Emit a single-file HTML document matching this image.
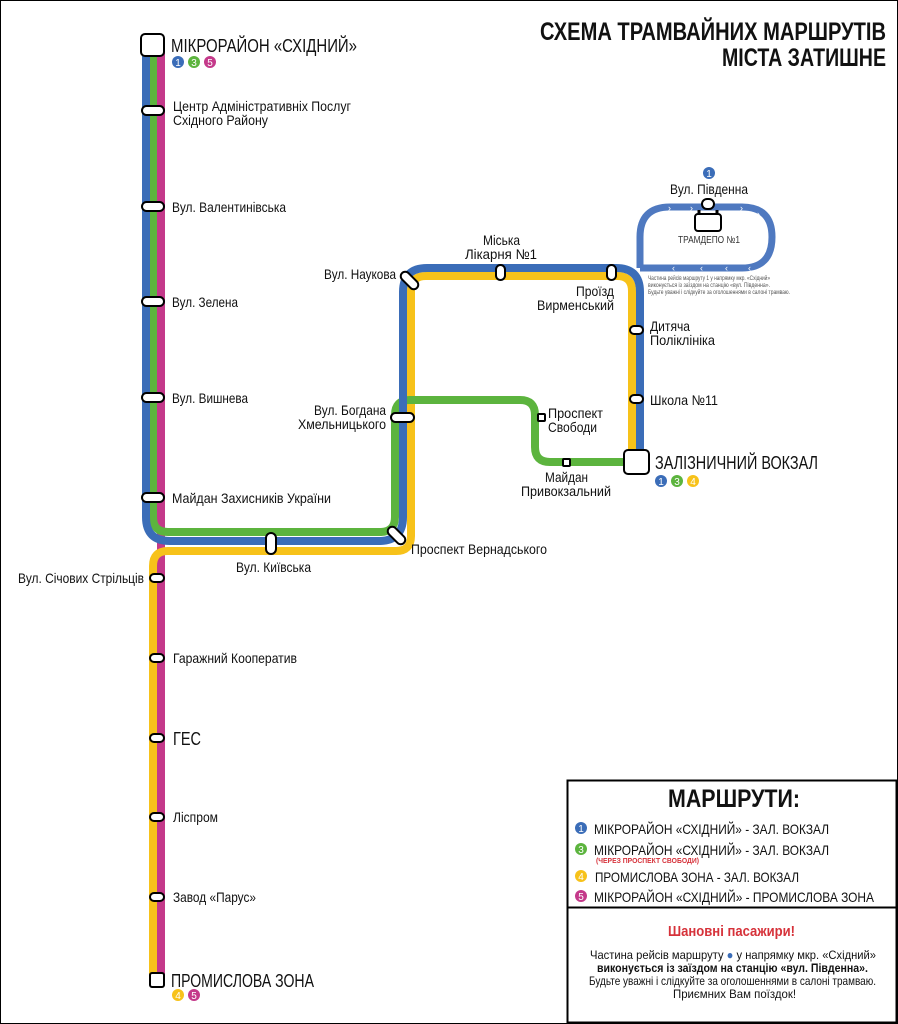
<!DOCTYPE html>
<html><head><meta charset="utf-8"><style>
html,body{margin:0;padding:0;background:#fff}
svg{display:block}
text{font-family:"Liberation Sans Narrow","Liberation Sans",sans-serif;fill:#111}
.l{font-size:14px}
</style></head><body>
<svg width="898" height="1024" viewBox="0 0 898 1024" xmlns="http://www.w3.org/2000/svg">
<rect x="0.5" y="0.5" width="897" height="1023" fill="#fff" stroke="#000" stroke-width="1"/>
<g fill="none" stroke-width="8" stroke-linecap="butt">
<path d="M161 45 V980" stroke="#c4398a"/>
<path d="M153 980 V566 Q153 551 168 551 H396 Q411 551 411 536 V291 Q411 276 426 276 H617 Q632 276 632 291 V462" stroke="#f7c21a"/>
<path d="M153 45 V517 Q153 532 168 532 H380 Q395 532 395 517 V415 Q395 400 410 400 H520 Q535 400 535 415 V447 Q535 462 550 462 H630" stroke="#5cb43e"/>
<path d="M146 45 V517 Q146 541 170 541 H379 Q403 541 403 517 V292 Q403 268 427 268 H616 Q640 268 640 292 V462" stroke="#3b6db8"/>
<path d="M640 268 V237 Q640 207 670 207 H742 Q772 207 772 237 Q772 268 742 268 H640" stroke="#4f79c0" stroke-width="7"/>
</g>
<g>
<text x="668" y="211" style="fill:#fff;font-size:9px">›</text>
<text x="690" y="211" style="fill:#fff;font-size:9px">›</text>
<text x="740" y="211" style="fill:#fff;font-size:9px">›</text>
<text x="757" y="217" style="fill:#fff;font-size:9px">›</text>
<text x="700" y="271" style="fill:#fff;font-size:9px">‹</text>
<text x="725" y="271" style="fill:#fff;font-size:9px">‹</text>
<text x="672" y="271" style="fill:#fff;font-size:9px">‹</text>
<text x="748" y="271" style="fill:#fff;font-size:9px">‹</text>
</g>
<g fill="#fff" stroke="#000" stroke-width="2">
<rect x="141" y="34" width="23" height="22" rx="4"/>
<rect x="142" y="106" width="22" height="9" rx="4.5"/>
<rect x="142" y="202" width="22" height="9" rx="4.5"/>
<rect x="142" y="297" width="22" height="9" rx="4.5"/>
<rect x="142" y="393" width="22" height="9" rx="4.5"/>
<rect x="142" y="493" width="22" height="9" rx="4.5"/>
<rect x="150" y="574" width="14" height="8" rx="4"/>
<rect x="150" y="654" width="14" height="8" rx="4"/>
<rect x="150" y="734" width="14" height="8" rx="4"/>
<rect x="150" y="813" width="14" height="8" rx="4"/>
<rect x="150" y="893" width="14" height="8" rx="4"/>
<rect x="150" y="973" width="14" height="14" rx="2"/>
<rect x="266" y="533" width="10" height="21" rx="5"/>
<rect x="386" y="531" width="21" height="9" rx="4.5" transform="rotate(45 396.5 535.5)"/>
<rect x="399" y="276" width="21" height="9" rx="4.5" transform="rotate(45 409.5 280.5)"/>
<rect x="391" y="413" width="23" height="9" rx="4.5"/>
<rect x="496" y="265" width="9" height="15" rx="4.5"/>
<rect x="607" y="265" width="9" height="15" rx="4.5"/>
<rect x="630" y="326" width="13" height="8" rx="4"/>
<rect x="630" y="395" width="13" height="8" rx="4"/>
<rect x="538" y="414" width="7" height="7" rx="1"/>
<rect x="563" y="459" width="7" height="7" rx="1"/>
<rect x="624" y="450" width="25" height="24" rx="4"/>
<rect x="702" y="199" width="12" height="10" rx="5"/>
<rect x="695" y="214" width="26" height="17" rx="3"/>
</g>
<path d="M699 210 v4 M717 210 v4" stroke="#000" stroke-width="3"/>
<text x="540" y="40" textLength="346" lengthAdjust="spacingAndGlyphs" style="font-size:25px;font-weight:bold">СХЕМА ТРАМВАЙНИХ МАРШРУТІВ</text>
<text x="722" y="66" textLength="164" lengthAdjust="spacingAndGlyphs" style="font-size:25px;font-weight:bold">МІСТА ЗАТИШНЕ</text>
<text x="171" y="52" textLength="186" lengthAdjust="spacingAndGlyphs" style="font-size:18px">МІКРОРАЙОН «СХІДНИЙ»</text>
<circle cx="178" cy="62" r="6" fill="#3b6db8"/><circle cx="194" cy="62" r="6" fill="#5cb43e"/><circle cx="210" cy="62" r="6" fill="#c4398a"/>
<text x="178" y="66" text-anchor="middle" style="fill:#fff;font-size:10px">1</text>
<text x="194" y="66" text-anchor="middle" style="fill:#fff;font-size:10px">3</text>
<text x="210" y="66" text-anchor="middle" style="fill:#fff;font-size:10px">5</text>
<text class="l" x="173" y="111" textLength="178" lengthAdjust="spacingAndGlyphs">Центр Адміністративніх Послуг</text>
<text class="l" x="173" y="125" textLength="95" lengthAdjust="spacingAndGlyphs">Східного Району</text>
<text class="l" x="172" y="212" textLength="114" lengthAdjust="spacingAndGlyphs">Вул. Валентинівська</text>
<text class="l" x="172" y="307" textLength="66" lengthAdjust="spacingAndGlyphs">Вул. Зелена</text>
<text class="l" x="172" y="403" textLength="76" lengthAdjust="spacingAndGlyphs">Вул. Вишнева</text>
<text class="l" x="172" y="503" textLength="159" lengthAdjust="spacingAndGlyphs">Майдан Захисників України</text>
<text class="l" x="18" y="583" textLength="126" lengthAdjust="spacingAndGlyphs">Вул. Січових Стрільців</text>
<text class="l" x="173" y="663" textLength="124" lengthAdjust="spacingAndGlyphs">Гаражний Кооператив</text>
<text x="173" y="745" textLength="28" lengthAdjust="spacingAndGlyphs" style="font-size:18px">ГЕС</text>
<text class="l" x="173" y="822" textLength="45" lengthAdjust="spacingAndGlyphs">Ліспром</text>
<text class="l" x="173" y="902" textLength="83" lengthAdjust="spacingAndGlyphs">Завод «Парус»</text>
<text x="171" y="987" textLength="143" lengthAdjust="spacingAndGlyphs" style="font-size:18px">ПРОМИСЛОВА ЗОНА</text>
<circle cx="178" cy="995" r="6" fill="#f7c21a"/><circle cx="194" cy="995" r="6" fill="#c4398a"/>
<text x="178" y="999" text-anchor="middle" style="fill:#fff;font-size:10px">4</text>
<text x="194" y="999" text-anchor="middle" style="fill:#fff;font-size:10px">5</text>
<text class="l" x="236" y="572" textLength="75" lengthAdjust="spacingAndGlyphs">Вул. Київська</text>
<text class="l" x="411" y="554" textLength="136" lengthAdjust="spacingAndGlyphs">Проспект Вернадського</text>
<text class="l" x="324" y="279" textLength="72" lengthAdjust="spacingAndGlyphs">Вул. Наукова</text>
<text class="l" x="314" y="415" textLength="72" lengthAdjust="spacingAndGlyphs">Вул. Богдана</text>
<text class="l" x="298" y="429" textLength="88" lengthAdjust="spacingAndGlyphs">Хмельницького</text>
<text class="l" x="483" y="245" textLength="37" lengthAdjust="spacingAndGlyphs">Міська</text>
<text class="l" x="465" y="259" textLength="72" lengthAdjust="spacingAndGlyphs">Лікарня №1</text>
<text class="l" x="576" y="296" textLength="38" lengthAdjust="spacingAndGlyphs">Проїзд</text>
<text class="l" x="537" y="310" textLength="77" lengthAdjust="spacingAndGlyphs">Вирменський</text>
<text class="l" x="650" y="331" textLength="40" lengthAdjust="spacingAndGlyphs">Дитяча</text>
<text class="l" x="650" y="345" textLength="65" lengthAdjust="spacingAndGlyphs">Поліклініка</text>
<text class="l" x="650" y="405" textLength="68" lengthAdjust="spacingAndGlyphs">Школа №11</text>
<text class="l" x="548" y="418" textLength="55" lengthAdjust="spacingAndGlyphs">Проспект</text>
<text class="l" x="548" y="432" textLength="49" lengthAdjust="spacingAndGlyphs">Свободи</text>
<text class="l" x="545" y="482" textLength="43" lengthAdjust="spacingAndGlyphs">Майдан</text>
<text class="l" x="521" y="496" textLength="90" lengthAdjust="spacingAndGlyphs">Привокзальний</text>
<text x="655" y="469" textLength="163" lengthAdjust="spacingAndGlyphs" style="font-size:18px">ЗАЛІЗНИЧНИЙ ВОКЗАЛ</text>
<circle cx="661" cy="481" r="6" fill="#3b6db8"/><circle cx="677" cy="481" r="6" fill="#5cb43e"/><circle cx="693" cy="481" r="6" fill="#f7c21a"/>
<text x="661" y="485" text-anchor="middle" style="fill:#fff;font-size:10px">1</text>
<text x="677" y="485" text-anchor="middle" style="fill:#fff;font-size:10px">3</text>
<text x="693" y="485" text-anchor="middle" style="fill:#fff;font-size:10px">4</text>
<circle cx="709" cy="173" r="6" fill="#3b6db8"/>
<text x="709" y="177" text-anchor="middle" style="fill:#fff;font-size:10px">1</text>
<text class="l" x="670" y="194" textLength="78" lengthAdjust="spacingAndGlyphs">Вул. Південна</text>
<text x="678" y="243" textLength="62" lengthAdjust="spacingAndGlyphs" style="font-size:10px;fill:#333">ТРАМДЕПО №1</text>
<text x="648" y="280" textLength="122" lengthAdjust="spacingAndGlyphs" style="font-size:6px;fill:#555">Частина рейсів маршруту 1 у напрямку мкр. «Східний»</text>
<text x="648" y="287" textLength="122" lengthAdjust="spacingAndGlyphs" style="font-size:6px;fill:#555">виконується із заїздом на станцію «вул. Південна».</text>
<text x="648" y="294" textLength="142" lengthAdjust="spacingAndGlyphs" style="font-size:6px;fill:#555">Будьте уважні і слідкуйте за оголошеннями в салоні трамваю.</text>
<rect x="567.5" y="780.5" width="329" height="127" fill="none" stroke="#000" stroke-width="2"/>
<rect x="567.5" y="907.5" width="329" height="115" fill="none" stroke="#000" stroke-width="2"/>
<text x="668" y="807" textLength="132" lengthAdjust="spacingAndGlyphs" style="font-size:25px;font-weight:bold">МАРШРУТИ:</text>
<circle cx="581" cy="828" r="6" fill="#3b6db8"/><text x="581" y="832" text-anchor="middle" style="fill:#fff;font-size:10px">1</text>
<text class="l" x="594" y="834" textLength="235" lengthAdjust="spacingAndGlyphs">МІКРОРАЙОН «СХІДНИЙ» - ЗАЛ. ВОКЗАЛ</text>
<circle cx="581" cy="849" r="6" fill="#5cb43e"/><text x="581" y="853" text-anchor="middle" style="fill:#fff;font-size:10px">3</text>
<text class="l" x="594" y="855" textLength="235" lengthAdjust="spacingAndGlyphs">МІКРОРАЙОН «СХІДНИЙ» - ЗАЛ. ВОКЗАЛ</text>
<text x="596" y="863" textLength="103" lengthAdjust="spacingAndGlyphs" style="font-size:7px;font-weight:bold;fill:#d6323a">(ЧЕРЕЗ ПРОСПЕКТ СВОБОДИ)</text>
<circle cx="581" cy="876" r="6" fill="#f7c21a"/><text x="581" y="880" text-anchor="middle" style="fill:#fff;font-size:10px">4</text>
<text class="l" x="595" y="882" textLength="204" lengthAdjust="spacingAndGlyphs">ПРОМИСЛОВА ЗОНА - ЗАЛ. ВОКЗАЛ</text>
<circle cx="581" cy="896" r="6" fill="#c4398a"/><text x="581" y="900" text-anchor="middle" style="fill:#fff;font-size:10px">5</text>
<text class="l" x="594" y="902" textLength="280" lengthAdjust="spacingAndGlyphs">МІКРОРАЙОН «СХІДНИЙ» - ПРОМИСЛОВА ЗОНА</text>
<text x="668" y="936" textLength="127" lengthAdjust="spacingAndGlyphs" style="font-size:15px;font-weight:bold;fill:#d6323a">Шановні пасажири!</text>
<text x="590" y="959" textLength="286" lengthAdjust="spacingAndGlyphs" style="font-size:12px">Частина рейсів маршруту <tspan style="fill:#3b6db8">●</tspan> у напрямку мкр. «Східний»</text>
<text x="597" y="972" textLength="271" lengthAdjust="spacingAndGlyphs" style="font-size:12px;font-weight:bold">виконується із заїздом на станцію «вул. Південна».</text>
<text x="589" y="985" textLength="287" lengthAdjust="spacingAndGlyphs" style="font-size:12px">Будьте уважні і слідкуйте за оголошеннями в салоні трамваю.</text>
<text x="673" y="998" textLength="123" lengthAdjust="spacingAndGlyphs" style="font-size:12px">Приємних Вам поїздок!</text>
</svg>
</body></html>
